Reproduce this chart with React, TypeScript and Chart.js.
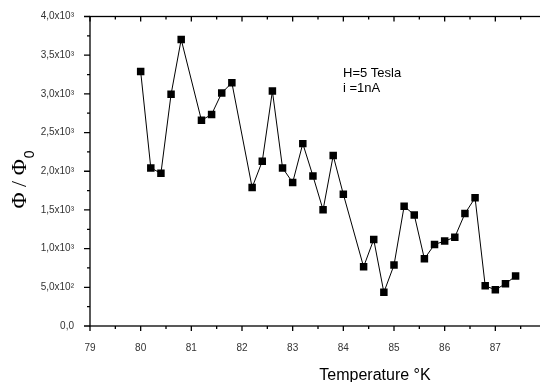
import React, { useEffect, useRef } from "react";
import { Chart, registerables } from "chart.js";

Chart.register(...registerables);

const temps = [80.0, 80.2, 80.4, 80.6, 80.8, 81.2, 81.4, 81.6, 81.8, 82.2, 82.4, 82.6, 82.8, 83.0, 83.2, 83.4, 83.6, 83.8, 84.0, 84.4, 84.6, 84.8, 85.0, 85.2, 85.4, 85.6, 85.8, 86.0, 86.2, 86.4, 86.6, 86.8, 87.0, 87.2, 87.4];
const phiRatio = [3290, 2043, 1974, 2994, 3703, 2658, 2735, 3011, 3144, 1790, 2129, 3036, 2043, 1854, 2357, 1940, 1501, 2202, 1703, 765, 1118, 435, 787, 1548, 1436, 868, 1054, 1097, 1148, 1453, 1656, 520, 468, 546, 645];
const yTickLabels = ["0,0", "5,0x10²", "1,0x10³", "1,5x10³", "2,0x10³", "2,5x10³", "3,0x10³", "3,5x10³", "4,0x10³"];
const annotationLines = ["H=5 Tesla", "i =1nA"];
const xTitle = "Temperature °K";

const SANS = "'Liberation Sans', Arial, sans-serif";

const framePlugin = {
  id: "frame",
  afterDraw(chart: any) {
    const { ctx, chartArea } = chart;
    const { left, right, top, bottom } = chartArea;
    const x = chart.scales.x;
    const y = chart.scales.y;
    ctx.save();
    ctx.strokeStyle = "#000";
    ctx.lineWidth = 1.3;
    ctx.strokeRect(left, top, right - left, bottom - top);
    ctx.beginPath();
    for (let i = 0; i <= 18; i++) {
      const t = 79 + i * 0.5;
      const px = x.getPixelForValue(t);
      const major = i % 2 === 0;
      ctx.moveTo(px, bottom);
      ctx.lineTo(px, bottom + (major ? 5 : 3));
      ctx.moveTo(px, top);
      ctx.lineTo(px, top + (major ? 5 : 3));
    }
    for (let i = 0; i <= 16; i++) {
      const v = i * 250;
      const py = y.getPixelForValue(v);
      const major = i % 2 === 0;
      ctx.moveTo(left, py);
      ctx.lineTo(left - (major ? 6 : 3), py);
      ctx.moveTo(right, py);
      ctx.lineTo(right - (major ? 6 : 3), py);
    }
    ctx.stroke();

    // annotation
    ctx.fillStyle = "#000";
    ctx.font = `13px ${SANS}`;
    ctx.textAlign = "left";
    ctx.textBaseline = "alphabetic";
    ctx.fillText(annotationLines[0], 335, 69);
    ctx.fillText(annotationLines[1], 335, 84);

    // x title
    ctx.font = `16px ${SANS}`;
    ctx.textAlign = "center";
    ctx.textBaseline = "middle";
    ctx.fillText(xTitle, 367, 368);

    // y title
    ctx.save();
    ctx.translate(10, 172);
    ctx.rotate(-Math.PI / 2);
    ctx.font = `22px 'Liberation Serif', serif`;
    const main = "Φ / Φ";
    const wMain = ctx.measureText(main).width;
    ctx.font = `14px ${SANS}`;
    const wSub = ctx.measureText("0").width;
    const total = wMain + wSub;
    ctx.textAlign = "left";
    ctx.textBaseline = "alphabetic";
    ctx.font = `22px 'Liberation Serif', serif`;
    ctx.fillText(main, -total / 2, 8);
    ctx.font = `14px ${SANS}`;
    ctx.fillText("0", -total / 2 + wMain + 1, 16);
    ctx.restore();

    ctx.restore();
  },
};

export default function App() {
  const ref = useRef<HTMLCanvasElement | null>(null);
  useEffect(() => {
    if (!ref.current) return;
    const chart = new Chart(ref.current, {
      type: "line",
      data: {
        datasets: [
          {
            data: temps.map((t, i) => ({ x: t, y: phiRatio[i] })),
            borderColor: "#000",
            borderWidth: 1,
            pointStyle: "rect",
            pointRadius: 5.3,
            pointBackgroundColor: "#000",
            pointBorderColor: "#000",
            pointBorderWidth: 0,
            tension: 0,
            fill: false,
          },
        ],
      },
      options: {
        animation: false,
        responsive: false,
        maintainAspectRatio: false,
        layout: { padding: { left: 0, top: 8.5, right: 6, bottom: 0 } },
        plugins: { legend: { display: false }, tooltip: { enabled: false } },
        scales: {
          x: {
            type: "linear",
            min: 79,
            max: 88,
            grid: { display: false },
            border: { display: false },
            afterFit: (s: any) => {
              s.height = 56;
              s.paddingLeft = 0;
              s.paddingRight = 0;
            },
            ticks: {
              stepSize: 1,
              padding: 8,
              color: "#333",
              font: { family: SANS, size: 10 },
              maxRotation: 0,
              autoSkip: false,
              includeBounds: true,
              callback: (v: any) => String(v),
            },
          },
          y: {
            type: "linear",
            min: 0,
            max: 4000,
            grid: { display: false },
            border: { display: false },
            afterFit: (s: any) => {
              s.width = 82;
              s.paddingTop = 0;
              s.paddingBottom = 0;
            },
            ticks: {
              stepSize: 500,
              padding: 8,
              color: "#333",
              font: { family: SANS, size: 10 },
              callback: (v: any) => yTickLabels[Math.round(Number(v) / 500)],
            },
          },
        },
      },
      plugins: [framePlugin],
    });
    return () => chart.destroy();
  }, []);
  return (
    <div style={{ width: 540, height: 374, overflow: "hidden" }}>
      <canvas ref={ref} width={544} height={374} style={{ display: "block", width: 544, height: 374 }} />
    </div>
  );
}
